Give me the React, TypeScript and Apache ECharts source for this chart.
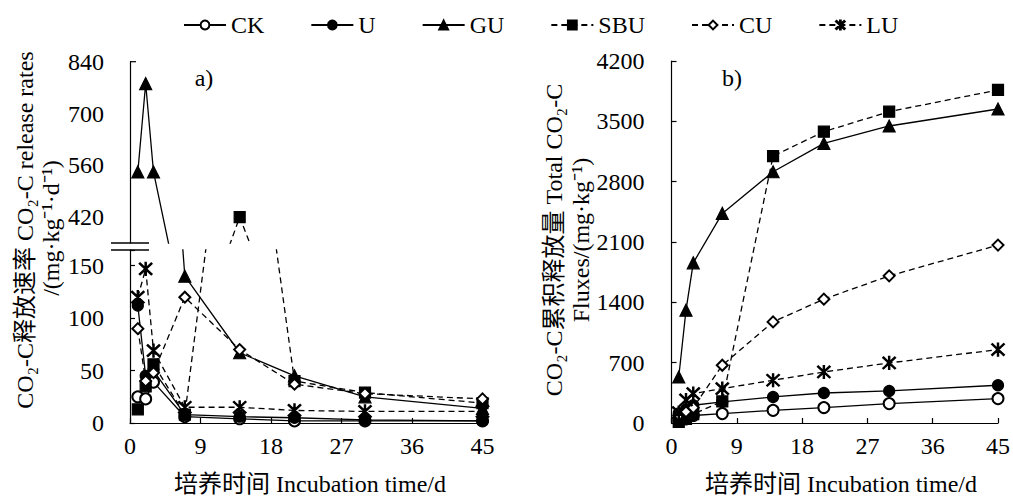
import React, { useEffect, useRef } from 'react';
import * as echarts from 'echarts';

// ---------------- data ----------------
const days = [1, 2, 3, 7, 14, 21, 30, 45];
const seriesNames = ['CK', 'U', 'GU', 'SBU', 'CU', 'LU'];

// a) CO2-C release rates (mg·kg-1·d-1)
const rateCK = [25, 23, 39, 6, 4, 2, 2, 2];
const rateU = [112, 45, 50, 8, 6, 5, 3, 2];
const rateGU = [542, 781, 542, 140, 67, 45, 25, 14];
const rateSBU = [13, 35, 56, 8, 420, 40, 29, 19];
const rateCU = [90, 40, 48, 120, 70, 37, 28, 23];
const rateLU = [120, 147, 69, 15, 15, 12, 11, 11];

// b) Total CO2-C fluxes (mg·kg-1)
const totalCK = [25, 48, 87, 109, 147, 179, 225, 283];
const totalU = [112, 157, 206, 244, 302, 348, 372, 438];
const totalGU = [534, 1309, 1858, 2432, 2915, 3245, 3446, 3643];
const totalSBU = [13, 48, 104, 250, 3097, 3380, 3612, 3864];
const totalCU = [90, 130, 178, 670, 1173, 1437, 1707, 2064];
const totalLU = [120, 267, 341, 399, 496, 592, 697, 852];

const xTicks = [0, 9, 18, 27, 36, 45];
const upperTicks = [420, 560, 700, 840];
const lowerTicks = [0, 50, 100, 150];
const totalTicks = [0, 700, 1400, 2100, 2800, 3500, 4200];

// ---------------- styles ----------------
const FONT = "'Liberation Serif', 'Times New Roman', 'Noto Sans CJK SC', serif";
const FS = 24;
const asterisk =
  'path://M9.1 0H10.9V20H9.1Z M0.7 2L2 0.7L19.3 18L18 19.3Z M18 0.7L19.3 2L2 19.3L0.7 18Z';

const look: Record<string, { symbol: string; size: number; dashed: boolean }> = {
  CK: { symbol: 'emptyCircle', size: 11, dashed: false },
  U: { symbol: 'circle', size: 11, dashed: false },
  GU: { symbol: 'triangle', size: 12, dashed: false },
  SBU: { symbol: 'rect', size: 11, dashed: true },
  CU: { symbol: 'emptyDiamond', size: 11, dashed: true },
  LU: { symbol: asterisk, size: 13, dashed: true },
};

const rates: Record<string, number[]> = {
  CK: rateCK, U: rateU, GU: rateGU, SBU: rateSBU, CU: rateCU, LU: rateLU,
};
const totals: Record<string, number[]> = {
  CK: totalCK, U: totalU, GU: totalGU, SBU: totalSBU, CU: totalCU, LU: totalLU,
};

function mkSeries(name: string, values: number[], axisIdx: number) {
  const l = look[name];
  return {
    name,
    type: 'line',
    xAxisIndex: axisIdx,
    yAxisIndex: axisIdx,
    data: days.map((d, i) => [d, values[i]]),
    symbol: l.symbol,
    symbolSize: l.size,
    clip: true,
    lineStyle: { color: '#000', width: 1.3, type: l.dashed ? [6, 4] : 'solid' },
    itemStyle: { color: '#000', borderColor: '#000', borderWidth: 1.2 },
    emphasis: { disabled: true },
  };
}

function buildOption() {
  const series: any[] = [];
  seriesNames.forEach((n) => {
    series.push(mkSeries(n, rates[n], 0));
    series.push(mkSeries(n, rates[n], 1));
    series.push(mkSeries(n, totals[n], 2));
  });

  const axisLine = { show: true, onZero: false, lineStyle: { color: '#000', width: 1.2 } };
  const axisTick = { show: true, inside: true, length: 5, lineStyle: { color: '#000', width: 1.2 } };
  const label = (margin: number) => ({ color: '#000', fontSize: FS, fontFamily: FONT, margin });
  const txt = (text: string, x: number, y: number, rot = 0, size = FS) => ({
    type: 'text', x, y, rotation: rot,
    style: { text, font: `${size}px ${FONT}`, fill: '#000', textAlign: 'center', textVerticalAlign: 'middle' },
  });

  return {
    animation: false,
    backgroundColor: '#fff',
    textStyle: { fontFamily: FONT },
    legend: {
      data: seriesNames,
      left: 178,
      top: 8,
      itemWidth: 42,
      itemHeight: 11,
      itemGap: 46,
      textStyle: { color: '#000', fontSize: FS, fontFamily: FONT },
      selectedMode: false,
    },
    grid: [
      { left: 130, top: 61.7, width: 352.5, height: 181.3 },
      { left: 130, top: 250, width: 352.5, height: 173 },
      { left: 671.5, top: 61, width: 333.3, height: 362 },
    ],
    xAxis: [
      { gridIndex: 0, type: 'value', min: 0, max: 45, show: false },
      {
        gridIndex: 1, type: 'value', min: 0, max: 45, interval: 9,
        axisLine, axisTick, splitLine: { show: false },
        axisLabel: { ...label(11), formatter: (v: number) => (xTicks.includes(v) ? String(v) : '') },
      },
      {
        gridIndex: 2, type: 'value', min: 0, max: 45, interval: 9,
        axisLine, axisTick, splitLine: { show: false },
        axisLabel: { ...label(11), formatter: (v: number) => (xTicks.includes(v) ? String(v) : '') },
      },
    ],
    yAxis: [
      {
        gridIndex: 0, type: 'value', min: 350, max: 840, interval: 70,
        axisLine, axisTick: { show: false }, splitLine: { show: false },
        axisLabel: { ...label(26), formatter: (v: number) => (upperTicks.includes(v) ? String(v) : '') },
      },
      {
        gridIndex: 1, type: 'value', min: 0, max: 165, interval: 50,
        axisLine, axisTick, splitLine: { show: false },
        axisLabel: { ...label(26), formatter: (v: number) => (lowerTicks.includes(v) ? String(v) : '') },
      },
      {
        gridIndex: 2, type: 'value', min: 0, max: 4200, interval: 700,
        axisLine, axisTick, splitLine: { show: false },
        axisLabel: { ...label(27), formatter: (v: number) => (totalTicks.includes(v) ? String(v) : '') },
      },
    ],
    graphic: [
      // axis break marks
      { type: 'line', shape: { x1: 111, y1: 243, x2: 149, y2: 243 }, style: { stroke: '#000', lineWidth: 1.3 } },
      { type: 'line', shape: { x1: 111, y1: 250, x2: 149, y2: 250 }, style: { stroke: '#000', lineWidth: 1.3 } },
      { type: 'line', shape: { x1: 130, y1: 61.7, x2: 136, y2: 61.7 }, style: { stroke: '#000', lineWidth: 1.2 } },
      // panel labels
      txt('a)', 204, 78),
      txt('b)', 732, 78),
      // axis titles
      txt('CO₂-C释放速率 CO₂-C release rates', 25, 230, Math.PI / 2),
      txt('/(mg·kg⁻¹·d⁻¹)', 51, 228, Math.PI / 2),
      txt('CO₂-C累积释放量 Total CO₂-C', 554, 240, Math.PI / 2),
      txt('Fluxes/(mg·kg⁻¹)', 581, 240, Math.PI / 2),
      txt('培养时间 Incubation time/d', 310, 484),
      txt('培养时间 Incubation time/d', 841, 484),
    ],
    series,
  };
}

export default function App() {
  const ref = useRef<HTMLDivElement>(null);
  useEffect(() => {
    if (!ref.current) return;
    const chart = echarts.init(ref.current, undefined, { renderer: 'svg' });
    chart.setOption(buildOption() as any);
    return () => chart.dispose();
  }, []);
  return <div ref={ref} style={{ position: 'fixed', left: 0, top: 0, width: 1013, height: 497 }} />;
}
